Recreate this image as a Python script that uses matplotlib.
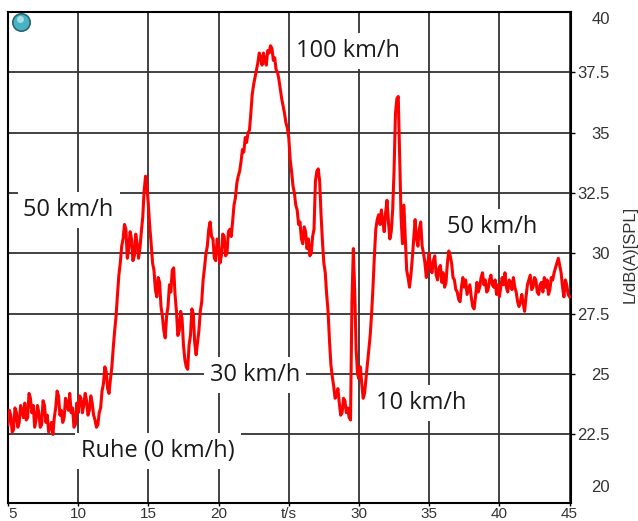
import numpy as np
import matplotlib
matplotlib.use("Agg")
import matplotlib.pyplot as plt

# sound level over time, one sample every 0.1 s from t = 5 s (20 samples per row)
t_start = 5.0
t_step = 0.1
level = [
    22.9, 23.5, 23.3, 22.6, 22.7, 23.6, 23.4, 22.8, 23.0, 23.7, 23.5, 23.2, 23.8, 23.1, 23.2, 24.2, 24.0, 23.4, 23.7, 22.8,  # 5..7
    23.1, 23.7, 23.4, 22.8, 22.9, 23.9, 23.7, 23.0, 23.3, 22.6, 22.8, 23.0, 22.5, 23.2, 23.6, 24.3, 24.1, 23.3, 23.5, 23.0,  # 7..9
    23.2, 24.0, 23.8, 23.5, 24.2, 23.4, 23.6, 22.8, 22.9, 23.8, 23.4, 24.1, 24.0, 23.4, 23.7, 24.2, 23.9, 23.3, 23.5, 24.1,  # 9..11
    23.8, 23.3, 23.1, 22.8, 22.9, 23.4, 23.6, 24.3, 24.6, 25.3, 25.1, 24.4, 24.2, 24.8, 25.3, 26.1, 26.8, 27.4, 28.3, 29.1,  # 11..13
    29.6, 30.3, 30.6, 31.2, 31.0, 29.8, 30.2, 30.9, 30.6, 29.7, 29.9, 30.8, 30.4, 29.8, 30.2, 30.9, 31.5, 32.6, 33.2, 32.8,  # 13..15
    32.0, 31.1, 30.4, 29.6, 29.3, 28.5, 28.2, 29.0, 28.8, 27.8, 27.4, 26.8, 26.5, 27.4, 27.8, 28.7, 28.4, 29.3, 29.4, 28.3,  # 15..17
    27.6, 26.6, 26.8, 27.6, 27.3, 26.2, 25.6, 25.3, 25.2, 26.2, 26.6, 27.7, 27.5, 26.3, 25.8, 26.3, 26.8, 27.6, 28.0, 28.9,  # 17..19
    29.4, 30.0, 30.3, 31.0, 31.3, 30.7, 30.6, 29.8, 29.7, 30.6, 30.3, 29.6, 29.9, 30.8, 30.7, 29.9, 30.0, 30.9, 31.0, 30.7,  # 19..21
    31.3, 32.0, 32.3, 32.9, 33.2, 33.4, 33.8, 34.3, 34.2, 34.8, 34.6, 35.0, 35.1, 35.8, 36.6, 37.0, 37.3, 37.6, 37.9, 38.3,  # 21..23
    38.1, 37.8, 38.3, 38.0, 37.8, 38.4, 38.3, 38.6, 38.5, 38.0, 38.1, 37.6, 37.5, 37.2, 36.8, 36.4, 36.1, 35.8, 35.4, 35.2,  # 23..25
    34.8, 33.9, 33.4, 32.8, 32.5, 32.0, 31.8, 31.2, 31.3, 30.6, 30.4, 31.1, 30.9, 30.2, 30.6, 29.9, 30.0, 30.7, 31.0, 33.0,  # 25..27
    33.4, 33.5, 33.0, 31.6, 30.5, 29.6, 29.2, 28.3, 27.6, 26.4, 25.4, 24.9, 24.5, 24.0, 24.1, 24.4, 23.8, 23.3, 23.4, 24.0,  # 27..29
    23.9, 23.4, 23.6, 23.2, 23.1, 28.0, 30.2, 28.4, 26.0, 25.0, 24.8, 25.3, 24.6, 24.0, 24.2, 24.8, 25.4, 26.0, 26.6, 27.5,  # 29..31
    28.6, 29.9, 31.0, 31.4, 31.6, 31.2, 31.8, 31.3, 30.9, 31.7, 32.2, 31.3, 30.6, 30.9, 31.8, 33.4, 35.8, 36.4, 36.5, 34.0,  # 31..33
    31.5, 30.4, 32.0, 30.6, 29.3, 29.0, 28.6, 29.1, 29.8, 30.6, 31.4, 30.6, 30.3, 31.0, 31.3, 30.3, 30.0, 29.6, 29.0, 29.6,  # 33..35
    30.0, 29.4, 29.2, 29.7, 29.9, 29.1, 28.9, 29.4, 29.5, 28.8, 29.2, 28.6, 28.8, 29.6, 30.1, 29.9, 29.6, 29.0, 28.9, 28.5,  # 35..37
    28.4, 28.1, 28.0, 28.6, 29.0, 28.6, 28.9, 28.3, 28.5, 28.7, 28.2, 27.8, 27.7, 28.2, 28.8, 28.4, 28.6, 29.0, 29.2, 28.7,  # 37..39
    28.9, 28.4, 28.5, 28.9, 29.1, 28.7, 28.6, 28.9, 28.3, 28.7, 28.2, 28.6, 29.0, 28.7, 29.2, 28.6, 28.4, 28.9, 28.8, 28.5,  # 39..41
    29.0, 28.6, 28.4, 28.0, 27.8, 28.0, 28.3, 27.9, 27.6, 28.2, 28.7, 28.9, 29.1, 28.5, 28.6, 29.0, 28.9, 28.4, 28.3, 28.7,  # 41..43
    28.8, 28.4, 29.0, 28.6, 28.9, 28.3, 28.5, 29.0, 28.9, 29.2, 29.4, 29.6, 29.8, 29.5, 29.2, 28.6, 28.2, 28.9, 28.7, 28.3,  # 43..45
    28.2,
]
time = t_start + t_step * np.arange(len(level))

x_ticks = [5, 10, 15, 20, 25, 30, 35, 40, 45]
x_labels = ["5", "10", "15", "20", "t/s", "30", "35", "40", "45"]
y_ticks = [20, 22.5, 25, 27.5, 30, 32.5, 35, 37.5, 40]
y_labels = ["20", "22.5", "25", "27.5", "30", "32.5", "35", "37.5", "40"]

notes = ["100 km/h", "50 km/h", "50 km/h", "30 km/h", "10 km/h", "Ruhe (0 km/h)"]
note_t = [25.5, 6.1, 36.3, 19.4, 31.2, 10.2]
note_y = [38.4, 31.8, 31.1, 24.95, 23.8, 21.8]

fig = plt.figure(figsize=(6.38, 5.21), dpi=100)
ax = fig.add_axes([0.0125, 0.034, 0.8824, 0.943])

ax.plot(time, level, color="#ff0000", lw=2.2, zorder=3)

ax.set_xlim(5, 45.1)
ax.set_ylim(19.65, 40)
ax.set_xticks(x_ticks)
ax.set_xticklabels(x_labels)
ax.set_yticks(y_ticks)
ax.set_yticklabels(y_labels)
ax.yaxis.tick_right()
ax.yaxis.set_label_position("right")
ax.grid(True, color="#333333", lw=1.3, zorder=1)
# no grid line or tick mark at 20 and 40
for i in (0, -1):
    ax.yaxis.get_gridlines()[i].set_visible(False)
    ax.yaxis.get_major_ticks()[i].tick2line.set_visible(False)

for lab in ax.get_xticklabels() + ax.get_yticklabels():
    lab.set_fontfamily("Liberation Sans")
    lab.set_color("#333333")
for lab in ax.get_xticklabels():
    lab.set_fontsize(11)
for lab in ax.get_yticklabels():
    lab.set_fontsize(12)
    lab.set_horizontalalignment("right")
ax.tick_params(axis="x", length=2, width=1, pad=0.5)
ax.tick_params(axis="y", length=3, width=1, pad=25)
ylabs = ax.get_yticklabels()
ylabs[0].set_verticalalignment("bottom")
ylabs[-1].set_verticalalignment("top")
ax.get_xticklabels()[0].set_horizontalalignment("left")

ax.set_ylabel("L/dB(A)[SPL]", fontsize=12, family="Liberation Sans", color="#333333")
ax.yaxis.label.set_verticalalignment("center")
ax.yaxis.set_label_coords(1.105, 0.507)

for s in ax.spines.values():
    s.set_color("black")
    s.set_linewidth(1.5)

for txt, tx, ty in zip(notes, note_t, note_y):
    ax.text(tx, ty, txt, fontsize=17, family="Open Sans", color="#1a1a1a",
            ha="left", va="center", zorder=5,
            bbox=dict(boxstyle="square,pad=0.25", fc="white", ec="none"))

# small teal status ball in the corner
ax.plot([0.023], [0.98], "o", transform=ax.transAxes, ms=12.5,
        mfc="#49b3c4", mec="#2d6570", mew=1.2, zorder=6, clip_on=False)
ax.plot([0.021], [0.986], "o", transform=ax.transAxes, ms=5,
        mfc="#bfeaf0", mec="none", alpha=0.8, zorder=7, clip_on=False)

fig.savefig("out.png", dpi=100)
